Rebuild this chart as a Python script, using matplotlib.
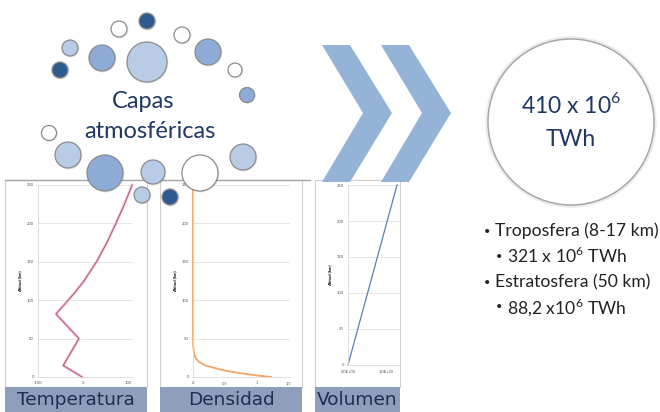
import matplotlib
matplotlib.use('Agg')
import matplotlib.pyplot as plt
from matplotlib.patches import Rectangle, Circle, Polygon

W, H = 660, 412
NAVY = '#1f3864'
FONT = ['Lato', 'DejaVu Sans']
plt.rcParams['font.family'] = FONT
plt.rcParams['mathtext.fontset'] = 'custom'
plt.rcParams['mathtext.rm'] = 'Lato'

# ---------------- data ----------------
alt_ticks = [0, 50, 100, 150, 200, 250]
alt_ticklabels = ['0', '50', '100', '150', '200', '250']

temp_alt = [0, 15, 50, 82, 90, 100, 110, 125, 150, 175, 200, 225, 250]
temp_val = [-2, -44, -9, -60, -48, -33, -18, 2, 30, 53, 73, 92, 109]
temp_xticks = [-100, 0, 100]
temp_xticklabels = ['-100', '0', '100']

dens_alt = [0, 2, 5, 8, 10, 15, 20, 25, 30, 40, 50, 60, 80, 100, 150, 200, 250]
dens_val = [1.225, 1.007, 0.736, 0.526, 0.414, 0.195, 0.089, 0.040, 0.018,
            0.004, 0.001, 0.0003, 0.00002, 0.0000005, 0.0, 0.0, 0.0]
dens_xticks = [0, 0.5, 1, 1.5]
dens_xticklabels = ['0', '0,5', '1', '1,5']

vol_alt = [0, 250]
vol_val = [0.0, 1.28e20]
vol_xticks = [0.0, 1.0e20]
vol_xticklabels = ['0,0E+00', '1,0E+20']

panel_titles = ['Temperatura', 'Densidad', 'Volumen']
center_title = ['Capas', 'atmosféricas']
total_lines = [r'410 x 10$^{\mathrm{6}}$', 'TWh']
bullets = ['Troposfera (8-17 km)', r'321 x 10$^{\mathrm{6}}$ TWh',
           'Estratosfera (50 km)', r'88,2 x10$^{\mathrm{6}}$ TWh']

# bubbles: (x, y, r, kind)
bubbles = [
    (147, 21, 8, 'dark'), (119, 29, 8, 'white'), (70, 48, 8, 'light'),
    (102, 58, 13, 'mid'), (147, 62, 20, 'light'), (182, 35, 8, 'white'),
    (208, 52, 13, 'mid'), (60, 70, 8, 'dark'), (235, 70, 7, 'white'),
    (247, 95, 7.5, 'mid'), (49, 133, 7.5, 'white'), (68, 155, 13, 'light'),
    (243, 157, 13, 'light'), (105, 173, 18, 'mid'), (153, 172, 12, 'light'),
    (200, 173, 18, 'white'), (142, 195, 8, 'light'), (170, 197, 8, 'dark'),
]
bubble_colors = {'dark': '#2f5a8f', 'mid': '#8eaad6', 'light': '#b8cce6', 'white': '#ffffff'}

fig = plt.figure(figsize=(W / 100, H / 100), dpi=100)

# ---------------- background layer ----------------
bg = fig.add_axes([0, 0, 1, 1], zorder=0)
bg.set_xlim(0, W)
bg.set_ylim(H, 0)
bg.axis('off')

panels = [(5, 147), (160, 302), (315, 400)]
for (x0, x1), title in zip(panels, panel_titles):
    bg.add_patch(Rectangle((x0, 180), x1 - x0, 207, facecolor='white',
                           edgecolor='#d0d0d0', lw=0.8))
    bg.add_patch(Rectangle((x0, 387), x1 - x0, 25, facecolor='#8d9fba',
                           edgecolor='none'))
    bg.text((x0 + x1) / 2, 400, title, ha='center', va='center',
            fontsize=13.3, color='#1a2f52', family=['DejaVu Sans'])
bg.plot([5, 310], [180, 180], color='#a6a6a6', lw=1.0)


def px_axes(x0, y0, x1, y1):
    return fig.add_axes([x0 / W, 1 - y1 / H, (x1 - x0) / W, (y1 - y0) / H], zorder=1)


def style(ax):
    ax.set_facecolor('none')
    for s in ['top', 'right']:
        ax.spines[s].set_visible(False)
    for s in ['left', 'bottom']:
        ax.spines[s].set_color('#d9d9d9')
        ax.spines[s].set_linewidth(0.6)
    ax.grid(axis='y', color='#e3e3e3', lw=0.6)
    ax.tick_params(length=0, labelsize=3, colors='#555555', pad=3)
    ax.set_ylim(0, 250)
    ax.set_yticks(alt_ticks)
    ax.set_yticklabels(alt_ticklabels)
    ax.set_ylabel('Altitud (km)', fontsize=3, fontweight='bold', labelpad=3)


ax1 = px_axes(38, 185, 133, 377)
style(ax1)
ax1.plot(temp_val, temp_alt, color='#f0c8d2', lw=2.2, clip_on=False, alpha=0.8)
ax1.plot(temp_val, temp_alt, color='#b85a75', lw=0.8, clip_on=False)
ax1.set_xlim(-100, 111)
ax1.set_xticks(temp_xticks)
ax1.set_xticklabels(temp_xticklabels)

ax2 = px_axes(193, 185, 290, 377)
style(ax2)
ax2.plot(dens_val, dens_alt, color='#f5a462', lw=1.3, clip_on=False)
ax2.set_xlim(0, 1.52)
ax2.set_xticks(dens_xticks)
ax2.set_xticklabels(dens_xticklabels)

ax3 = px_axes(348, 185, 420, 365)
style(ax3)
ax3.plot(vol_val, vol_alt, color='#5b7fb0', lw=0.9, clip_on=False)
ax3.set_xlim(0, 1.88e20)
ax3.set_xticks(vol_xticks)
ax3.set_xticklabels(vol_xticklabels)

# ---------------- overlay layer ----------------
ov = fig.add_axes([0, 0, 1, 1], zorder=2)
ov.set_xlim(0, W)
ov.set_ylim(H, 0)
ov.axis('off')
ov.patch.set_visible(False)

# white cover on right of volumen panel
ov.add_patch(Rectangle((400.5, 175), 80, 237, facecolor='white', edgecolor='none'))

for x, y, r, kind in bubbles:
    ov.add_patch(Circle((x + 0.8, y + 0.8), r + 0.6, facecolor='#000000', alpha=0.10, edgecolor='none'))
    ov.add_patch(Circle((x, y), r, facecolor=bubble_colors[kind], edgecolor='#8c8c8c', lw=0.9))

ov.text(143, 101, center_title[0], ha='center', va='center', fontsize=17, color=NAVY)
ov.text(150, 131, center_title[1], ha='center', va='center', fontsize=17, color=NAVY)

# chevrons
chev = [(322, 45), (350, 45), (392, 113), (350, 182), (322, 182), (363, 113)]
for dx in [0, 59]:
    ov.add_patch(Polygon([(x + dx, y) for x, y in chev], closed=True,
                         facecolor='#95b3d7', edgecolor='none'))

# big circle
ov.add_patch(Circle((571, 122), 84, facecolor='none', edgecolor='#ececec', lw=2.5))
ov.add_patch(Circle((571, 122), 83, facecolor='white', edgecolor='#a8a8a8', lw=1.1))
ov.text(571, 104, total_lines[0], ha='center', va='center', fontsize=16.5, color=NAVY)
ov.text(571, 140, total_lines[1], ha='center', va='center', fontsize=16.5, color=NAVY)

# bullets
bx = [484, 496, 484, 496]
by = [231, 256, 282, 307]
for x, y, t in zip(bx, by, bullets):
    ov.text(x, y, '•', ha='left', va='center', fontsize=8, color='#222222')
    ov.text(x + 11, y, t, ha='left', va='center', fontsize=12.6, color='#222222')

fig.savefig('out.png', dpi=100)
